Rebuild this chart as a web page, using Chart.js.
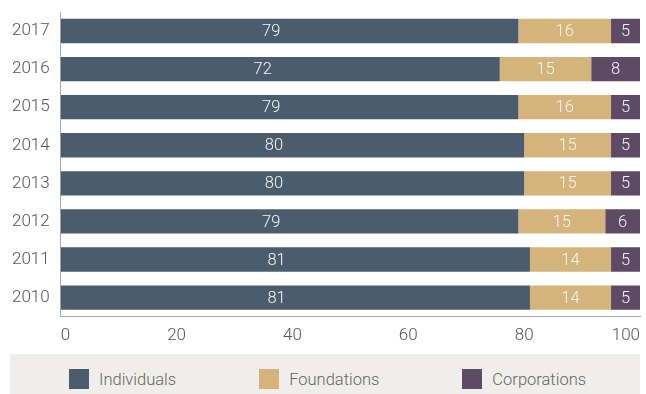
<!DOCTYPE html>
<html>
<head>
<meta charset="utf-8">
<script src="https://cdn.jsdelivr.net/npm/chart.js@4/dist/chart.umd.min.js"></script>
<style>
    html, body { margin: 0; padding: 0; background: #fff; }
    body { width: 646px; height: 394px; position: relative; overflow: hidden; font-family: Roboto, "Liberation Sans", sans-serif; }
    #chart-wrap { position: absolute; left: 0; top: 0; width: 646px; height: 364px; }
    #legend { position: absolute; left: 10px; top: 354px; width: 630px; height: 40px; background: #efeeea; display: flex; align-items: flex-end; padding-left: 59px; box-sizing: border-box; gap: 83px; }
    .legend-item { display: flex; align-items: center; height: 20px; margin-bottom: 5px; color: #666; font-size: 16.5px; font-weight: 300; }
    .legend-item span.swatch { width: 20px; height: 20px; margin-right: 10px; display: inline-block; }
</style>
</head>
<body>
<div id="chart-wrap"><canvas id="chart-giving"></canvas></div>
<div id="legend"></div>
<script>
// Share of giving by source, % (labels as printed; bars drawn as share of the row total)
const years = ['2017', '2016', '2015', '2014', '2013', '2012', '2011', '2010'];
const individuals = [79, 72, 79, 80, 80, 79, 81, 81];
const foundations = [16, 15, 16, 15, 15, 15, 14, 14];
const corporations = [5, 8, 5, 5, 5, 6, 5, 5];
const xTicks = [0, 20, 40, 60, 80, 100];

const seriesNames = ['Individuals', 'Foundations', 'Corporations'];
const seriesColors = ['#4a5c6d', '#d4b47b', '#5e4a65'];
// where the value sits along each segment (0 = start, 1 = end)
const labelAnchor = [0.46, 0.5, 0.5];

const rawSeries = [individuals, foundations, corporations];
const rowTotals = years.map((_, i) => individuals[i] + foundations[i] + corporations[i]);

const datasets = rawSeries.map((values, s) => ({
    label: seriesNames[s],
    raw: values,
    data: values.map((v, i) => v / rowTotals[i] * 100),
    backgroundColor: seriesColors[s],
    borderWidth: 0,
    barPercentage: 0.64,
    categoryPercentage: 1
}));

const barLabels = {
    id: 'barLabels',
    afterDatasetsDraw(chart) {
        const ctx = chart.ctx;
        ctx.save();
        ctx.font = '300 16.5px Roboto, "Liberation Sans", sans-serif';
        ctx.fillStyle = '#f4f4f4';
        ctx.textAlign = 'center';
        ctx.textBaseline = 'middle';
        chart.data.datasets.forEach((ds, i) => {
            const meta = chart.getDatasetMeta(i);
            meta.data.forEach((bar, j) => {
                const p = bar.getProps(['x', 'y', 'base'], true);
                const cx = p.base + (p.x - p.base) * labelAnchor[i];
                ctx.fillText(String(ds.raw[j]), cx, p.y + 1);
            });
        });
        ctx.restore();
    }
};

const tickFont = { family: 'Roboto, "Liberation Sans", sans-serif', size: 17, weight: '300' };

new Chart(document.getElementById('chart-giving'), {
    type: 'bar',
    data: { labels: years, datasets: datasets },
    plugins: [barLabels],
    options: {
        indexAxis: 'y',
        responsive: true,
        maintainAspectRatio: false,
        animation: false,
        layout: { padding: { top: 12, right: 6, bottom: 9, left: 1 } },
        plugins: {
            legend: { display: false },
            tooltip: { enabled: false }
        },
        scales: {
            x: {
                stacked: true,
                min: 0,
                max: 100,
                afterBuildTicks: (scale) => { scale.ticks = xTicks.map(v => ({ value: v })); },
                afterFit: (scale) => { scale.paddingRight = 0; scale.paddingLeft = 0; },
                grid: { display: false, drawTicks: false },
                border: { display: true, color: '#a8a8a8', width: 1 },
                ticks: { align: 'inner', padding: 9, color: '#555', font: tickFont }
            },
            y: {
                stacked: true,
                afterFit: (scale) => { scale.paddingTop = 0; scale.paddingBottom = 0; },
                grid: { display: false, drawTicks: false },
                border: { display: true, color: '#a8a8a8', width: 1 },
                ticks: { padding: 11, color: '#555', font: tickFont }
            }
        }
    }
});

// legend row
const legend = document.getElementById('legend');
seriesNames.forEach((name, s) => {
    const item = document.createElement('div');
    item.className = 'legend-item';
    item.innerHTML = `<span class="swatch" style="background:${seriesColors[s]}"></span>${name}`;
    legend.appendChild(item);
});
</script>
</body>
</html>
